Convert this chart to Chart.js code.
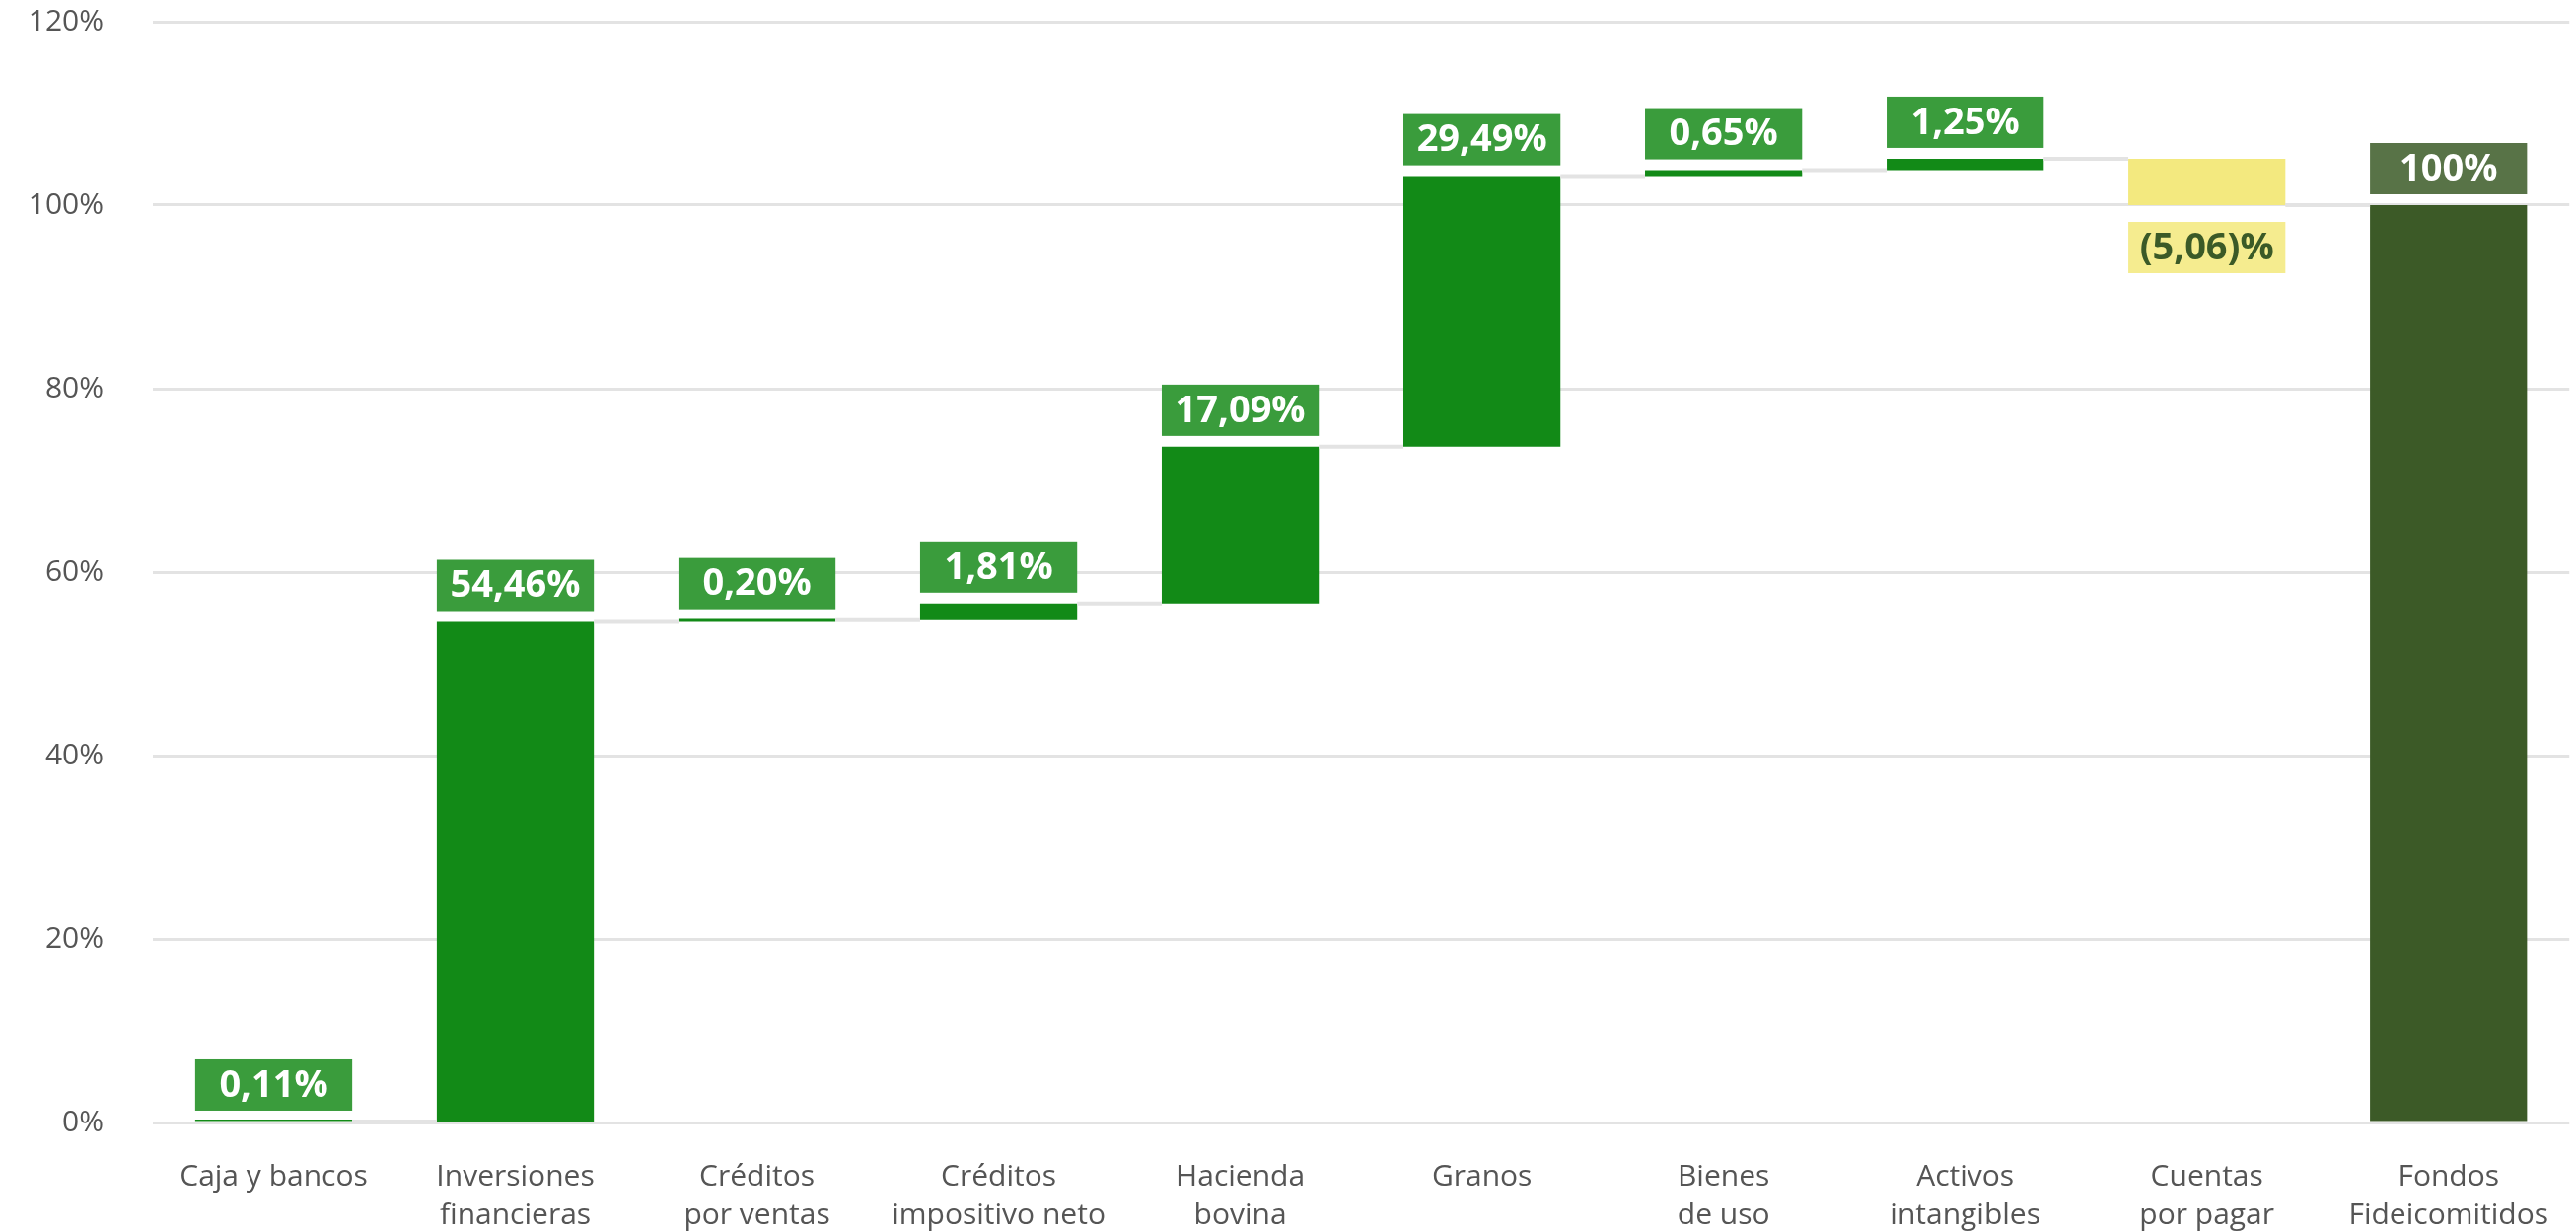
<!DOCTYPE html>
<html lang="es">
<head>
    <meta charset="UTF-8">
    <title>Fondos Fideicomitidos</title>
    <style>
        body {
            margin: 0;
            padding: 0;
            background-color: #fff;
        }

        .chart-box {
            width: 2612px;
            height: 1248px;
            position: relative;
        }
    </style>
</head>
<body>

<div class="chart-box">
    <canvas id="waterfall"></canvas>
</div>

<script src="https://cdn.jsdelivr.net/npm/chart.js"></script>
<script>
    // data
    const categories = [
        ['Caja y bancos'],
        ['Inversiones', 'financieras'],
        ['Créditos', 'por ventas'],
        ['Créditos', 'impositivo neto'],
        ['Hacienda', 'bovina'],
        ['Granos'],
        ['Bienes', 'de uso'],
        ['Activos', 'intangibles'],
        ['Cuentas', 'por pagar'],
        ['Fondos', 'Fideicomitidos']
    ];
    const changes = [0.11, 54.46, 0.20, 1.81, 17.09, 29.49, 0.65, 1.25, -5.06];
    const total = 100;
    const valueLabels = ['0,11%', '54,46%', '0,20%', '1,81%', '17,09%', '29,49%', '0,65%', '1,25%', '(5,06)%', '100%'];
    const yTicks = [0, 20, 40, 60, 80, 100, 120];

    // build the floating bars [start, end]
    const ranges = [];
    let running = 0;
    changes.forEach(c => {
        ranges.push([running, running + c]);
        running += c;
    });
    ranges.push([0, total]);

    const lastIdx = ranges.length - 1;
    const barColors = ranges.map((r, i) => i === lastIdx ? '#3c5a27' : (r[1] < r[0] ? '#f3e97f' : '#128a17'));
    const boxColors = ranges.map((r, i) => i === lastIdx ? '#587347' : (r[1] < r[0] ? '#f5ec8f' : '#3a9c3c'));
    const textColors = ranges.map((r, i) => (i !== lastIdx && r[1] < r[0]) ? '#3b5a27' : '#ffffff');

    const waterfallExtras = {
        id: 'waterfallExtras',
        afterDatasetsDraw(chart) {
            const ctx = chart.ctx;
            const meta = chart.getDatasetMeta(0);
            const y = chart.scales.y;

            // connector lines between bars
            ctx.save();
            ctx.strokeStyle = '#e3e3e3';
            ctx.lineWidth = 4;
            for (let i = 0; i < lastIdx; i++) {
                const a = meta.data[i];
                const b = meta.data[i + 1];
                const level = ranges[i][1];
                const py = y.getPixelForValue(level);
                ctx.beginPath();
                ctx.moveTo(a.x + a.width / 2, py);
                ctx.lineTo(b.x - b.width / 2, py);
                ctx.stroke();
            }
            ctx.restore();

            // value boxes
            ctx.save();
            ctx.font = 'bold 38px "Open Sans", sans-serif';
            ctx.textAlign = 'center';
            ctx.textBaseline = 'middle';
            const boxH = 52;
            const gap = 11;
            meta.data.forEach((bar, i) => {
                const r = ranges[i];
                const neg = r[1] < r[0];
                const left = bar.x - bar.width / 2;
                let top;
                if (neg) {
                    top = y.getPixelForValue(Math.min(r[0], r[1])) + gap + 6;
                } else {
                    top = y.getPixelForValue(Math.max(r[0], r[1])) - gap - boxH;
                }
                ctx.fillStyle = boxColors[i];
                ctx.fillRect(left, top, bar.width, boxH);
                ctx.fillStyle = textColors[i];
                ctx.fillText(valueLabels[i], bar.x, top + boxH / 2 + 1);
            });
            ctx.restore();
        }
    };

    const ctx = document.getElementById('waterfall').getContext('2d');
    new Chart(ctx, {
        type: 'bar',
        data: {
            labels: categories,
            datasets: [{
                data: ranges,
                backgroundColor: barColors,
                borderWidth: 0,
                barPercentage: 0.65,
                categoryPercentage: 1,
                minBarLength: 3
            }]
        },
        options: {
            responsive: true,
            maintainAspectRatio: false,
            devicePixelRatio: 1,
            animation: false,
            layout: {
                padding: 0
            },
            plugins: {
                legend: { display: false },
                tooltip: { enabled: false }
            },
            scales: {
                x: {
                    grid: { display: false },
                    border: { display: false },
                    ticks: {
                        color: '#555555',
                        padding: 28,
                        maxRotation: 0,
                        autoSkip: false,
                        font: { family: '"Open Sans", sans-serif', size: 30, lineHeight: 1.3 }
                    },
                    afterFit(scale) {
                        scale.height = 110;
                    }
                },
                y: {
                    min: 0,
                    max: 120,
                    afterBuildTicks(scale) {
                        scale.ticks = yTicks.map(v => ({ value: v }));
                    },
                    grid: {
                        color: '#e3e3e3',
                        lineWidth: 3,
                        drawTicks: false
                    },
                    border: { display: false },
                    ticks: {
                        color: '#555555',
                        padding: 50,
                        font: { family: '"Open Sans", sans-serif', size: 30 },
                        callback: v => v + '%'
                    },
                    afterFit(scale) {
                        scale.width = 155;
                        scale.paddingTop = 22;
                        scale.paddingBottom = 0;
                    }
                }
            }
        },
        plugins: [waterfallExtras]
    });
</script>

</body>
</html>
